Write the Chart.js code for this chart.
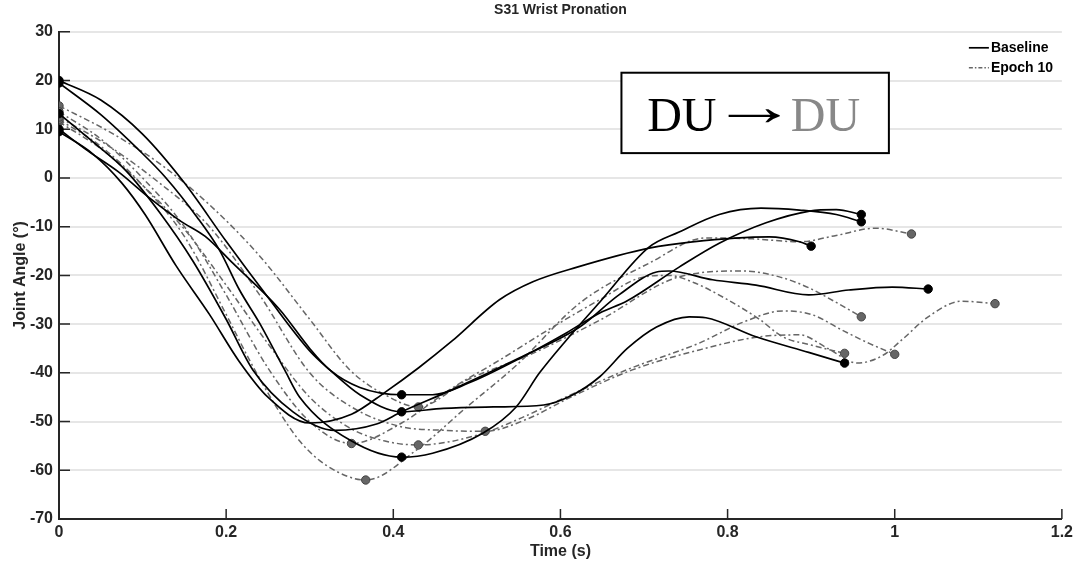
<!DOCTYPE html>
<html>
<head>
<meta charset="utf-8">
<script src="https://cdn.jsdelivr.net/npm/chart.js@4"></script>
<style>
  html, body { margin: 0; padding: 0; background: #fff; }
  #wrap { width: 1077px; height: 567px; }
</style>
</head>
<body>
<div id="wrap"><canvas id="chart"></canvas></div>
<script>
// ======= values =======
const timeTickLabels = ["0", "0.2", "0.4", "0.6", "0.8", "1", "1.2"];

// Baseline trials (solid black)
const baseTimeA = [0, 0.04, 0.075, 0.103, 0.14, 0.18, 0.215, 0.25, 0.3, 0.35, 0.39, 0.43, 0.47, 0.527, 0.567, 0.62, 0.706, 0.758, 0.85, 0.886, 0.9];
const baseAngleA = [9.5, 5, -1, -7.5, -18, -28, -37.5, -45, -50.3, -48.5, -44, -39, -33.5, -25, -21.3, -18.3, -14.4, -13.1, -12.1, -13.1, -14];
const baseMarksA = [0, 20];

const baseTimeB = [0, 0.05, 0.1, 0.15, 0.2, 0.25, 0.3, 0.324, 0.36, 0.41, 0.46, 0.52, 0.58, 0.615, 0.647, 0.68, 0.715, 0.754, 0.774, 0.834, 0.897, 0.94];
const baseAngleB = [20, 16, 9, -1, -13, -24.5, -35.5, -39.4, -44.5, -48, -47.3, -47, -46.6, -44.5, -40.8, -35, -30.6, -28.5, -28.7, -32.6, -35.8, -38];
const baseMarksB = [0, 9, 21];

const baseTimeC = [0, 0.035, 0.07, 0.109, 0.145, 0.175, 0.208, 0.264, 0.3, 0.324, 0.36, 0.41, 0.447, 0.49, 0.547, 0.607, 0.647, 0.68, 0.742, 0.79, 0.846, 0.898, 0.93, 0.96];
const baseAngleC = [10, 5.5, 1.4, -4.2, -8.8, -12, -17.5, -27, -35, -39.4, -43, -44.5, -44.5, -42.1, -37.4, -31.8, -27.7, -25.2, -18.3, -13.4, -9.2, -6.8, -6.5, -7.5];
const baseMarksC = [0, 11, 23];

const baseTimeD = [0, 0.05, 0.097, 0.127, 0.165, 0.192, 0.216, 0.24, 0.27, 0.288, 0.348, 0.41, 0.447, 0.507, 0.547, 0.575, 0.607, 0.647, 0.706, 0.742, 0.79, 0.84, 0.886, 0.93, 0.96];
const baseAngleD = [19.5, 13, 5.5, 0.2, -8, -14.8, -23, -29.8, -39.4, -45, -53.8, -57.3, -56.5, -52.4, -47, -40, -33.3, -25.5, -14.2, -11.1, -7.5, -6.2, -6.6, -7.5, -9];
const baseMarksD = [0, 11, 24];

const baseTimeE = [0, 0.04, 0.08, 0.12, 0.16, 0.2, 0.232, 0.28, 0.33, 0.38, 0.41, 0.47, 0.55, 0.623, 0.67, 0.715, 0.73, 0.782, 0.834, 0.897, 0.945, 0.997, 1.04];
const baseAngleE = [13.2, 7.5, 1.5, -7, -17, -29, -39.4, -48, -51.8, -50.5, -48, -43.5, -37, -30.6, -24, -19.3, -19.1, -20.9, -22, -24, -23, -22.4, -22.8];
const baseMarksE = [0, 22];

// Epoch 10 trials (grey dash-dot)
const epochTimeA = [0, 0.06, 0.12, 0.18, 0.24, 0.3, 0.35, 0.408, 0.46, 0.51, 0.56, 0.61, 0.686, 0.766, 0.838, 0.886, 0.92, 0.955, 0.985, 1.01, 1.04, 1.08, 1.12];
const epochAngleA = [12.5, 6.5, -1, -10, -24, -40, -47, -51, -51.8, -52, -49.5, -45.2, -39.4, -35.3, -32.6, -32.2, -35, -38, -36.5, -33, -28.5, -25.3, -25.8];
const epochMarksA = [0, 9, 22];

const epochTimeB = [0, 0.05, 0.1, 0.15, 0.2, 0.228, 0.26, 0.288, 0.32, 0.367, 0.428, 0.488, 0.547, 0.623, 0.706, 0.774, 0.83, 0.886, 0.93, 0.977, 1.02];
const epochAngleB = [12, 6.5, -1.5, -12, -28, -37.4, -47, -54, -59, -62, -55.8, -47, -38.5, -25.7, -17.5, -12.3, -12.5, -13.1, -11.8, -10.3, -11.5];
const epochMarksB = [0, 9, 20];

const epochTimeC = [0, 0.05, 0.1, 0.15, 0.2, 0.25, 0.3, 0.35, 0.41, 0.467, 0.527, 0.587, 0.647, 0.7, 0.73, 0.76, 0.8, 0.838, 0.866, 0.9, 0.94];
const epochAngleC = [13.6, 8, 0, -10, -24, -39, -50, -54.5, -50.3, -43.5, -37.4, -31, -25, -20.3, -20, -21.5, -25, -29, -32.6, -34.3, -36];
const epochMarksC = [0, 7, 20];

const epochTimeD = [0, 0.06, 0.12, 0.18, 0.24, 0.3, 0.348, 0.39, 0.43, 0.488, 0.567, 0.647, 0.742, 0.818, 0.862, 0.898, 0.918, 0.96];
const epochAngleD = [14.8, 9.5, 3, -5.5, -16, -29, -39.4, -44.5, -47, -41.5, -36, -29.2, -20.3, -19.1, -20.3, -22.6, -24.4, -28.5];
const epochMarksD = [0, 8, 17];

const epochTimeE = [0, 0.05, 0.1, 0.15, 0.2, 0.25, 0.3, 0.35, 0.39, 0.43, 0.5, 0.55, 0.6, 0.679, 0.766, 0.82, 0.866, 0.9, 0.94, 0.97, 1.0];
const epochAngleE = [11.5, 6, -1.5, -10.5, -22, -34, -45, -51.5, -54, -54.8, -52.8, -49.5, -45.5, -39.4, -33.9, -29.5, -27.3, -28, -31.5, -34, -36.2];
const epochMarksE = [0, 9, 20];

// ======= styling =======
const TEXT = "#262626";
const FONT = '"Liberation Sans", Arial, sans-serif';
const EPOCH_GREY = "#666666";
const EPOCH_DASH = [6, 3, 2, 3];

function trial(times, angles, marks, epoch) {
  return {
    data: times.map((t, i) => ({ x: t, y: angles[i] })),
    borderColor: epoch ? EPOCH_GREY : "#000",
    borderWidth: epoch ? 1.5 : 1.7,
    borderDash: epoch ? EPOCH_DASH : [],
    cubicInterpolationMode: "monotone",
    fill: false,
    pointRadius: (ctx) => (marks.includes(ctx.dataIndex) ? 4.2 : 0),
    pointHoverRadius: 0,
    pointBackgroundColor: epoch ? "#666" : "#000",
    pointBorderColor: epoch ? "#444" : "#000",
    pointBorderWidth: 1,
  };
}

// black drawn on top (dataset 0 is painted last)
const datasets = [
  trial(baseTimeA, baseAngleA, baseMarksA, false),
  trial(baseTimeB, baseAngleB, baseMarksB, false),
  trial(baseTimeC, baseAngleC, baseMarksC, false),
  trial(baseTimeD, baseAngleD, baseMarksD, false),
  trial(baseTimeE, baseAngleE, baseMarksE, false),
  trial(epochTimeA, epochAngleA, epochMarksA, true),
  trial(epochTimeB, epochAngleB, epochMarksB, true),
  trial(epochTimeC, epochAngleC, epochMarksC, true),
  trial(epochTimeD, epochAngleD, epochMarksD, true),
  trial(epochTimeE, epochAngleE, epochMarksE, true),
];

// inward ticks, legend and the "DU -> DU" box
const decor = {
  id: "decor",
  beforeDatasetsDraw(chart) {
    const { ctx, chartArea: a, scales: { x, y } } = chart;
    ctx.save();
    ctx.strokeStyle = TEXT;
    ctx.lineWidth = 1.5;
    ctx.beginPath();
    x.ticks.forEach((t) => {
      const px = x.getPixelForValue(t.value);
      ctx.moveTo(px, a.bottom);
      ctx.lineTo(px, a.bottom - 10);
    });
    y.ticks.forEach((t) => {
      const py = y.getPixelForValue(t.value);
      ctx.moveTo(a.left, py);
      ctx.lineTo(a.left + 11, py);
    });
    ctx.stroke();
    ctx.restore();
  },
  afterDraw(chart) {
    const { ctx, chartArea: a, scales: { x, y } } = chart;
    ctx.save();
    // legend
    const l0 = a.right - 93, l1 = a.right - 73, tx = a.right - 71;
    const y1 = a.top + 16, y2 = a.top + 36;
    ctx.lineWidth = 1.7;
    ctx.strokeStyle = "#000";
    ctx.beginPath(); ctx.moveTo(l0, y1); ctx.lineTo(l1, y1); ctx.stroke();
    ctx.strokeStyle = EPOCH_GREY;
    ctx.lineWidth = 1.5;
    ctx.setLineDash([4, 2, 1.5, 2]);
    ctx.beginPath(); ctx.moveTo(l0, y2); ctx.lineTo(l1, y2); ctx.stroke();
    ctx.setLineDash([]);
    ctx.fillStyle = "#000";
    ctx.font = "bold 14px " + FONT;
    ctx.textBaseline = "middle";
    ctx.textAlign = "left";
    ctx.fillText("Baseline", tx, y1);
    ctx.fillText("Epoch 10", tx, y2);

    // annotation box
    const bx0 = x.getPixelForValue(0.673), bx1 = x.getPixelForValue(0.993);
    const by0 = y.getPixelForValue(21.6), by1 = y.getPixelForValue(5.1);
    ctx.fillStyle = "#fff";
    ctx.fillRect(bx0, by0, bx1 - bx0, by1 - by0);
    ctx.strokeStyle = "#000";
    ctx.lineWidth = 2;
    ctx.strokeRect(bx0, by0, bx1 - bx0, by1 - by0);
    ctx.font = '48px "Liberation Serif", "Times New Roman", serif';
    ctx.textBaseline = "alphabetic";
    const cx = (bx0 + bx1) / 2 - 3;
    const base = by1 - 22;
    ctx.fillStyle = "#000";
    ctx.textAlign = "left";
    ctx.fillText("DU", cx - 105, base);
    // wide arrow, as in the figure
    ctx.save();
    ctx.translate(cx + 2, base - 6);
    ctx.scale(1.8, 1.15);
    ctx.textAlign = "center";
    ctx.fillText("\u2192", 0, 0);
    ctx.restore();
    ctx.fillStyle = "#888";
    ctx.textAlign = "right";
    ctx.fillText("DU", cx + 108, base);
    ctx.restore();
  },
};

new Chart(document.getElementById("chart"), {
  type: "line",
  data: { datasets },
  plugins: [decor],
  options: {
    responsive: true,
    maintainAspectRatio: false,
    animation: false,
    events: [],
    layout: { padding: { left: 0, right: 14, top: 0, bottom: 0 } },
    plugins: {
      legend: { display: false },
      tooltip: { enabled: false },
      title: {
        display: true,
        fullSize: false,
        text: "S31 Wrist Pronation",
        color: TEXT,
        font: { family: FONT, size: 14, weight: "bold" },
        padding: { top: 2, bottom: 13 },
      },
    },
    scales: {
      x: {
        type: "linear",
        min: 0,
        max: 1.2,
        ticks: {
          stepSize: 0.2,
          color: TEXT,
          font: { family: FONT, size: 16, weight: "bold" },
          padding: 4,
          maxRotation: 0,
          callback: (v, i) => timeTickLabels[i],
        },
        grid: { display: false, drawTicks: false },
        border: { display: true, color: TEXT, width: 2 },
        title: {
          display: true,
          text: "Time (s)",
          color: TEXT,
          font: { family: FONT, size: 16, weight: "bold" },
          padding: { top: 0, bottom: 6 },
        },
        afterFit: (s) => { s.height = 48; },
      },
      y: {
        min: -70,
        max: 30,
        ticks: {
          stepSize: 10,
          color: TEXT,
          font: { family: FONT, size: 16, weight: "bold" },
          padding: 6,
        },
        grid: { color: "#e6e6e6", lineWidth: 2, drawTicks: false },
        border: { display: true, color: TEXT, width: 2 },
        title: {
          display: true,
          text: "Joint Angle (°)",
          color: TEXT,
          font: { family: FONT, size: 16, weight: "bold" },
          padding: { top: 11, bottom: 0 },
        },
        afterFit: (s) => { s.width = 59; },
      },
    },
  },
});
</script>
</body>
</html>
